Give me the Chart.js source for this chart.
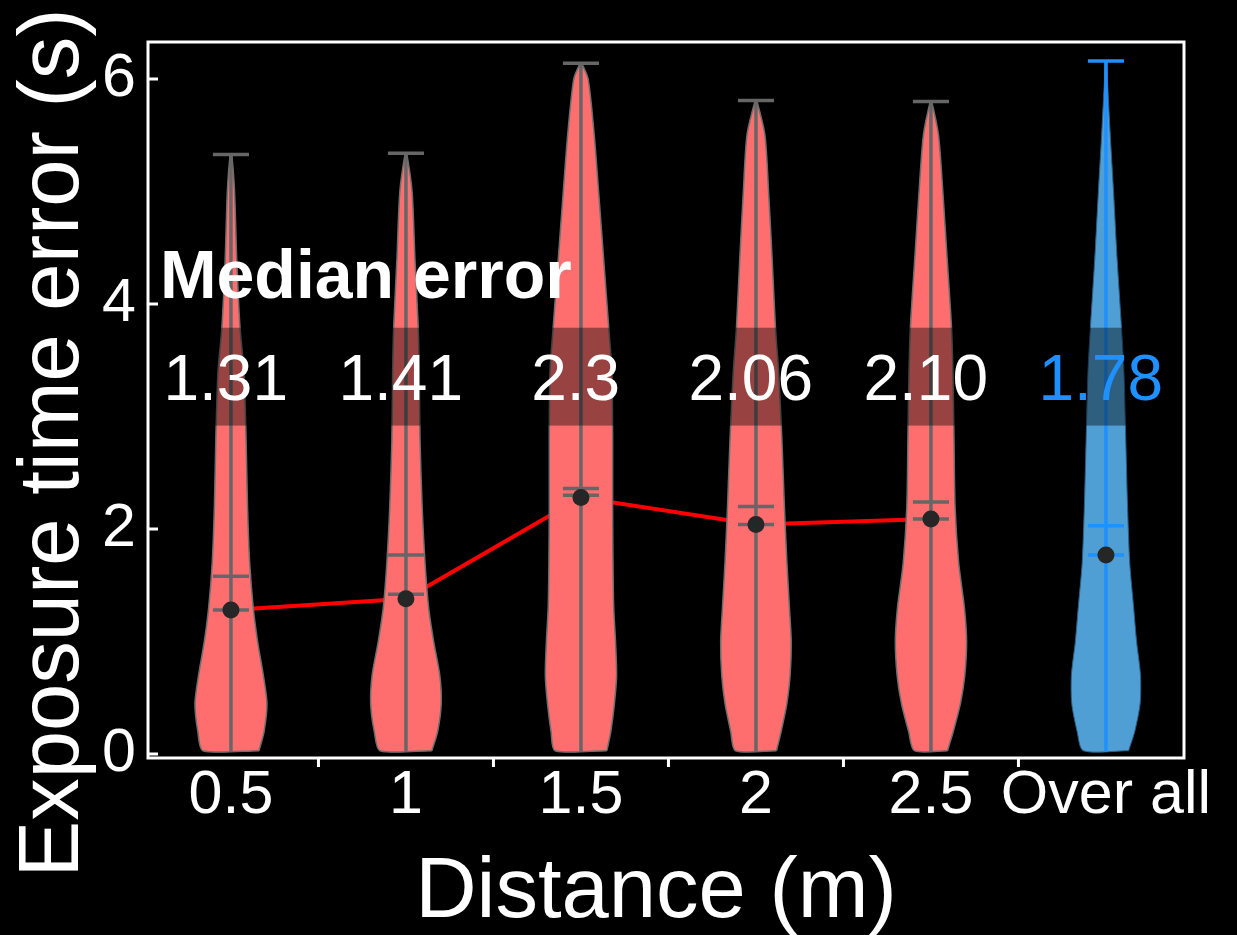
<!DOCTYPE html>
<html>
<head>
<meta charset="utf-8">
<script src="https://cdn.jsdelivr.net/npm/chart.js@4.4.1/dist/chart.umd.min.js"></script>
<style>
   html, body { margin: 0; padding: 0; background: #000; }
</style>
</head>
<body>
<canvas id="violinChart" width="1237" height="935"></canvas>
<script>
// ---- data ----
const distanceLabels = ['0.5', '1', '1.5', '2', '2.5', 'Over all'];
const medianText     = ['1.31', '1.41', '2.3', '2.06', '2.10', '1.78'];
const yTicks         = [0, 2, 4, 6];

const minVals    = [0.02, 0.02, 0.02, 0.02, 0.02, 0.02];
const maxVals    = [5.33, 5.34, 6.14, 5.81, 5.80, 6.16];
const medianVals = [1.28, 1.42, 2.30, 2.04, 2.09, 1.77];
const meanVals   = [1.58, 1.77, 2.36, 2.20, 2.24, 2.03];
const dotVals    = [1.28, 1.38, 2.28, 2.04, 2.09, 1.77];

// violin half-width (relative to widest) at these error levels
const levels = [0.03, 0.2, 0.45, 0.7, 1.0, 1.3, 1.7, 2.2, 2.8, 3.4, 3.8, 4.4, 5.0, 5.5, 6.0];
const width05  = [0.78, 0.92, 1.00, 0.90, 0.74, 0.62, 0.52, 0.46, 0.42, 0.36, 0.25, 0.16, 0.10];
const width10  = [0.72, 0.88, 0.98, 0.94, 0.77, 0.63, 0.53, 0.45, 0.39, 0.37, 0.34, 0.25, 0.17];
const width15  = [0.72, 0.83, 0.93, 0.99, 0.96, 0.91, 0.89, 0.88, 0.88, 0.86, 0.77, 0.63, 0.49, 0.37, 0.20];
const width20  = [0.57, 0.70, 0.86, 0.95, 0.98, 0.93, 0.86, 0.79, 0.72, 0.63, 0.54, 0.45, 0.35, 0.25];
const width25  = [0.46, 0.62, 0.82, 0.94, 0.99, 0.93, 0.77, 0.67, 0.64, 0.61, 0.57, 0.45, 0.33, 0.21];
const widthAll = [0.63, 0.80, 0.95, 0.96, 0.85, 0.77, 0.66, 0.60, 0.55, 0.50, 0.43, 0.31, 0.21, 0.12, 0.04];
const violinWidths = [width05, width10, width15, width20, width25, widthAll];

const bandLow = 2.92, bandHigh = 3.79;   // shaded "median error" strip

// ---- styling ----
const FONT = '"Liberation Sans", Arial, sans-serif';
const RED_FILL = '#ff6e6e', BLUE_FILL = '#4f9fd4';
const GREY = '#666666', BLUE_LINE = '#1e90ff';
const HALF_W = 0.2057;   // widest half-width in x units
const CAP = 0.103;

function outline(i) {
   const w = violinWidths[i].concat([0.02]);
   const lv = levels.slice(0, violinWidths[i].length).concat([maxVals[i]]);
   const pts = [];
   for (let k = 0; k < w.length; k++) pts.push({ x: i + w[k] * HALF_W, y: lv[k] });
   for (let k = w.length - 1; k >= 0; k--) pts.push({ x: i - w[k] * HALF_W, y: lv[k] });
   pts.push(pts[0]);
   return pts;
}

function segments(idx) {
   const pts = [];
   const gap = (i) => pts.push({ x: i, y: null });
   idx.forEach(i => {
      pts.push({ x: i, y: minVals[i] }, { x: i, y: maxVals[i] }); gap(i);
      pts.push({ x: i - CAP, y: maxVals[i] }, { x: i + CAP, y: maxVals[i] }); gap(i);
      pts.push({ x: i - CAP, y: meanVals[i] }, { x: i + CAP, y: meanVals[i] }); gap(i);
      pts.push({ x: i - CAP, y: medianVals[i] }, { x: i + CAP, y: medianVals[i] }); gap(i);
   });
   return pts;
}

const datasets = [];
violinWidths.forEach((w, i) => {
   const isAll = i === violinWidths.length - 1;
   datasets.push({
      type: 'line', data: outline(i), order: 3,
      backgroundColor: isAll ? BLUE_FILL : RED_FILL,
      borderColor: isAll ? '#2c5f86' : '#6e6e6e',
      borderWidth: isAll ? 1 : 1.5,
      fill: 'shape', tension: 0.25, pointRadius: 0
   });
});
// trend line under the violins
datasets.push({
   type: 'line', order: 4,
   data: dotVals.slice(0, 5).map((v, i) => ({ x: i, y: v })),
   borderColor: '#ff0000', borderWidth: 4, pointRadius: 0, fill: false, tension: 0
});
datasets.push({
   type: 'line', order: 2, data: segments([0, 1, 2, 3, 4]),
   borderColor: GREY, borderWidth: 3.5, pointRadius: 0, fill: false, spanGaps: false
});
datasets.push({
   type: 'line', order: 2, data: segments([5]),
   borderColor: BLUE_LINE, borderWidth: 3.5, pointRadius: 0, fill: false, spanGaps: false
});
datasets.push({
   type: 'scatter', order: 0,
   data: dotVals.map((v, i) => ({ x: i, y: v })),
   backgroundColor: '#262626', borderWidth: 0, pointRadius: 8.5
});

const overlayPlugin = {
   id: 'overlay',
   beforeDraw(chart) {
      const ctx = chart.ctx;
      ctx.save();
      ctx.fillStyle = '#000';
      ctx.fillRect(0, 0, chart.width, chart.height);
      ctx.restore();
   },
   afterDatasetsDraw(chart) {
      const { ctx, chartArea: a, scales: { x, y } } = chart;
      ctx.save();
      // dark strip behind the median labels
      ctx.fillStyle = 'rgba(0,0,0,0.4)';
      const yt = y.getPixelForValue(bandHigh), yb = y.getPixelForValue(bandLow);
      ctx.fillRect(a.left, yt, a.right - a.left, yb - yt);

      ctx.textBaseline = 'alphabetic';
      ctx.textAlign = 'left';
      ctx.fillStyle = '#fff';
      ctx.font = 'bold 68px ' + FONT;
      ctx.fillText('Median error', x.getPixelForValue(-0.406), y.getPixelForValue(4.05));

      ctx.textAlign = 'center';
      ctx.font = '64px ' + FONT;
      medianText.forEach((t, i) => {
         ctx.fillStyle = i === medianText.length - 1 ? BLUE_LINE : '#fff';
         ctx.fillText(t, x.getPixelForValue(i - 0.03), y.getPixelForValue(3.15));
      });
      ctx.restore();
   },
   afterDraw(chart) {
      const { ctx, chartArea: a, scales: { x, y } } = chart;
      ctx.save();
      ctx.strokeStyle = '#fff';
      ctx.lineWidth = 3;
      ctx.strokeRect(a.left, a.top, a.right - a.left, a.bottom - a.top);
      // y ticks point inward, x ticks sit between the categories
      ctx.beginPath();
      yTicks.forEach(v => {
         const py = y.getPixelForValue(v);
         ctx.moveTo(a.left, py); ctx.lineTo(a.left + 10, py);
      });
      for (let i = 0; i < distanceLabels.length - 1; i++) {
         const px = x.getPixelForValue(i + 0.5);
         ctx.moveTo(px, a.bottom); ctx.lineTo(px, a.bottom + 9);
      }
      ctx.stroke();

      // axis titles
      ctx.fillStyle = '#fff';
      ctx.font = '85px ' + FONT;
      ctx.textAlign = 'center';
      ctx.textBaseline = 'alphabetic';
      ctx.fillText('Distance (m)', (a.left + a.right) / 2 - 10, 917);
      ctx.translate(78, 443);
      ctx.rotate(-Math.PI / 2);
      ctx.fillText('Exposure time error (s)', 0, 0);
      ctx.restore();
   }
};

function noPad(s) {
   s.paddingLeft = 0; s.paddingRight = 0; s.paddingTop = 0; s.paddingBottom = 0;
}

new Chart(document.getElementById('violinChart'), {
   type: 'line',
   data: { datasets: datasets },
   options: {
      responsive: false,
      animation: false,
      events: [],
      layout: { padding: { left: 0, top: 42, right: 53, bottom: 0 } },
      plugins: { legend: { display: false }, tooltip: { enabled: false } },
      scales: {
         x: {
            type: 'linear', min: -0.474, max: 5.446,
            afterBuildTicks: s => { s.ticks = distanceLabels.map((_, i) => ({ value: i })); },
            afterFit: s => { s.height = 177; noPad(s); },
            ticks: {
               color: '#fff', font: { family: FONT, size: 61 }, padding: 2,
               maxRotation: 0, autoSkip: false,
               callback: v => distanceLabels[Math.round(v)]
            },
            grid: { display: false, drawTicks: false },
            border: { display: false }
         },
         y: {
            min: -0.035, max: 6.33,
            afterBuildTicks: s => { s.ticks = yTicks.map(v => ({ value: v })); },
            afterFit: s => { s.width = 148; noPad(s); },
            ticks: { color: '#fff', font: { family: FONT, size: 61 }, padding: 12 },
            grid: { display: false, drawTicks: false },
            border: { display: false }
         }
      }
   },
   plugins: [overlayPlugin]
});
</script>
</body>
</html>
